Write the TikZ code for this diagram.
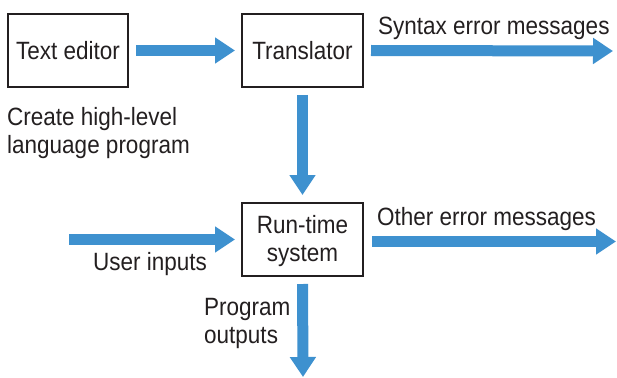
\documentclass[tikz,border=0pt]{standalone}
\usepackage{fontspec}
\setmainfont[FakeStretch=0.9]{Liberation Sans}
\usetikzlibrary{arrows.meta}
\definecolor{flowblue}{RGB}{62,145,207}
\definecolor{inkgray}{RGB}{35,31,32}

\begin{document}
\begin{tikzpicture}[x=1pt,y=-1pt,
  >={Triangle[length=20pt,width=25pt]},
  box/.style={draw=inkgray,line width=2pt,minimum width=121pt,minimum height=73pt,
              inner sep=0pt,align=center,text=inkgray,font=\fontsize{25}{28}\selectfont},
  lbl/.style={inner sep=0pt,align=left,anchor=base west,text=inkgray,
              font=\fontsize{25}{28}\selectfont},
  flow/.style={->,draw=flowblue,line width=11pt}]
\useasboundingbox (0,0) rectangle (617,377);
%programs
\node[box,minimum width=120pt] (editor) at (68,50.5) {Text editor};
\node[box] (translator) at (302.5,50.5) {Translator};
\node[box,text depth=3pt] (runtime) at (302.5,239.5) {Run-time\\system};
%free ends
\coordinate (syntaxend) at (613,51);
\coordinate (inputstart) at (69,239.5);
\coordinate (otherend) at (616,241.5);
\coordinate (outputend) at (303,377);
%links
\draw[flow] ([xshift=7pt]editor.east) -- ([xshift=-6pt]translator.west);
\draw[flow] ([xshift=7pt]translator.east) -- (syntaxend);
\draw[flow,shorten <=7pt,shorten >=7pt] (translator.south) -- (runtime.north);
\draw[flow,shorten >=6pt] (inputstart) -- (runtime.west);
\draw[flow] ([xshift=8pt,yshift=-2pt]runtime.east) -- (otherend);
\draw[flow,shorten <=7pt] (runtime.south) -- (outputend);
%labels (base of a two-line label is its last line)
\node[lbl] (syntaxlbl) at (378,35) {Syntax error messages};
\node[lbl] (createlbl) at (7,153) {Create high-level\\language program};
\node[lbl] (inputlbl) at (93,270) {User inputs};
\node[lbl] (otherlbl) at (377,225) {Other error messages};
\node[lbl] (outputlbl) at (204,343) {Program\\outputs};
\end{tikzpicture}
\end{document}
